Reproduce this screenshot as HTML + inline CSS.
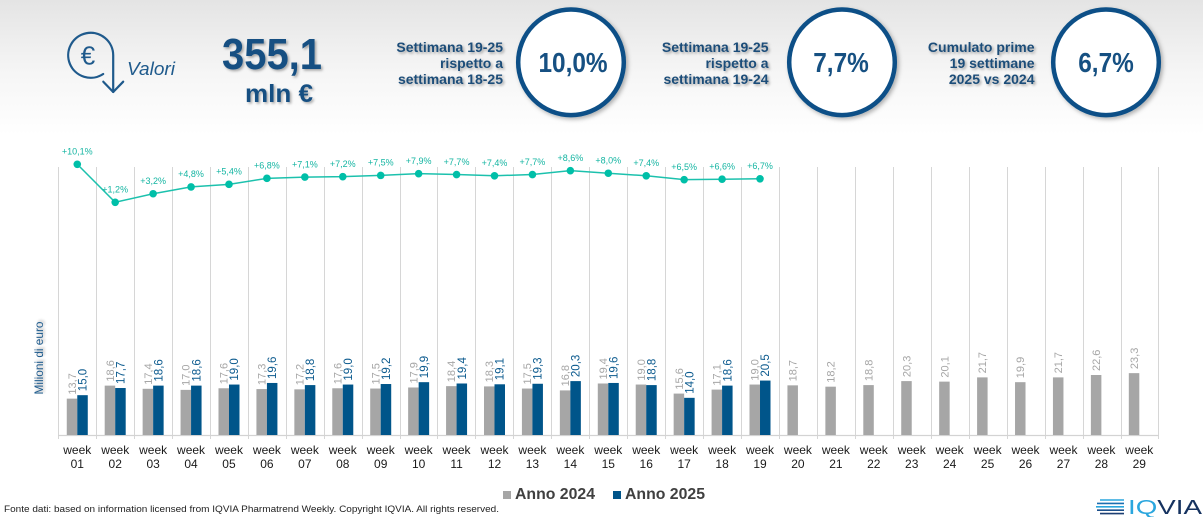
<!DOCTYPE html>
<html>
<head>
<meta charset="utf-8">
<style>
html,body{margin:0;padding:0;background:#fff;}
svg{display:block;}
</style>
</head>
<body>
<svg width="1203" height="517" viewBox="0 0 1203 517" xmlns="http://www.w3.org/2000/svg" font-family="'Liberation Sans', Arial, sans-serif">
<defs>
<linearGradient id="bg" x1="0" y1="0" x2="0" y2="1">
<stop offset="0" stop-color="#e4e4e4"/>
<stop offset="0.55" stop-color="#f6f6f6"/>
<stop offset="1" stop-color="#ffffff"/>
</linearGradient>
<filter id="sh" x="-20%" y="-20%" width="140%" height="140%">
<feDropShadow dx="1.6" dy="1.6" stdDeviation="1.2" flood-color="#000" flood-opacity="0.33"/>
</filter>
<filter id="csh" x="-20%" y="-20%" width="140%" height="140%">
<feDropShadow dx="2" dy="2" stdDeviation="2" flood-color="#000" flood-opacity="0.3"/>
</filter>
</defs>
<rect x="0" y="0" width="1203" height="517" fill="#fff"/>
<rect x="0" y="0" width="1203" height="135" fill="url(#bg)"/>

<!-- Euro icon -->
<g fill="none" stroke="#1f5a8c" stroke-width="2.2" stroke-linecap="round" stroke-linejoin="round">
<path d="M103.2 74 A22.5 22.5 0 1 1 113.2 55.2 L113.2 92"/>
<path d="M103.3 81.7 L113.2 92 L123.2 81.7"/>
</g>
<text x="88" y="64.5" font-size="26" fill="#1f5a8c" text-anchor="middle">€</text>
<text x="127" y="75" font-size="18.5" font-style="italic" fill="#1f5a8c" textLength="48" lengthAdjust="spacingAndGlyphs">Valori</text>

<!-- Big number -->
<g filter="url(#sh)" fill="#165082" font-weight="bold">
<text x="222" y="69" font-size="44" textLength="100" lengthAdjust="spacingAndGlyphs">355,1</text>
<text x="245" y="102" font-size="25" textLength="68" lengthAdjust="spacingAndGlyphs">mln €</text>
</g>

<!-- Text blocks -->
<g filter="url(#sh)" fill="#1f4e79" font-weight="bold" font-size="14" text-anchor="end">
<text x="503" y="52">Settimana 19-25</text>
<text x="503" y="68">rispetto a</text>
<text x="503" y="84">settimana 18-25</text>
<text x="768.5" y="52">Settimana 19-25</text>
<text x="768.5" y="68">rispetto a</text>
<text x="768.5" y="84">settimana 19-24</text>
<text x="1034.5" y="52">Cumulato prime</text>
<text x="1034.5" y="68">19 settimane</text>
<text x="1034.5" y="84">2025 vs 2024</text>
</g>

<!-- Circles -->
<g filter="url(#csh)" fill="#fff" stroke="#0a5087" stroke-width="4.5">
<circle cx="571" cy="62.3" r="52.8"/>
<circle cx="842" cy="62.3" r="52.8"/>
<circle cx="1106" cy="62.3" r="52.8"/>
</g>
<g fill="#165082" font-weight="bold" font-size="28" text-anchor="middle">
<text transform="translate(573,72) scale(0.87,1)">10,0%</text>
<text transform="translate(841,72) scale(0.87,1)">7,7%</text>
<text transform="translate(1106,72) scale(0.87,1)">6,7%</text>
</g>

<!-- Gridlines -->
<path stroke="#d6d6d6" stroke-width="1" fill="none" d="M58.5 167V439M96.5 167V439M134.5 167V439M172.5 167V439M210.5 167V439M248.5 167V439M286.5 167V439M324.5 167V439M362.5 167V439M400.5 167V439M437.5 167V439M475.5 167V439M513.5 167V439M551.5 167V439M589.5 167V439M627.5 167V439M665.5 167V439M703.5 167V439M741.5 167V439M779.5 167V439M817.5 167V439M855.5 167V439M893.5 167V439M931.5 167V439M969.5 167V439M1007.5 167V439M1045.5 167V439M1083.5 167V439M1121.5 167V439M1158.5 167V439"/>
<path stroke="#d3d3d3" stroke-width="1.2" d="M58 435.5H1159"/>

<!-- Y axis title -->
<text filter="url(#sh)" transform="translate(43,358) rotate(-90)" font-size="12" fill="#1f5a8c" text-anchor="middle" textLength="73" lengthAdjust="spacingAndGlyphs">Milioni di euro</text>

<!-- Grey bars 2024 -->
<g fill="#a6a6a6">
<rect x="66.77" y="398.63" width="10.5" height="36.37"/>
<rect x="104.70" y="385.62" width="10.5" height="49.38"/>
<rect x="142.63" y="388.80" width="10.5" height="46.20"/>
<rect x="180.56" y="389.87" width="10.5" height="45.13"/>
<rect x="218.49" y="388.27" width="10.5" height="46.73"/>
<rect x="256.42" y="389.07" width="10.5" height="45.93"/>
<rect x="294.35" y="389.33" width="10.5" height="45.67"/>
<rect x="332.28" y="388.27" width="10.5" height="46.73"/>
<rect x="370.21" y="388.54" width="10.5" height="46.46"/>
<rect x="408.14" y="387.48" width="10.5" height="47.52"/>
<rect x="446.07" y="386.15" width="10.5" height="48.85"/>
<rect x="484.00" y="386.41" width="10.5" height="48.59"/>
<rect x="521.93" y="388.54" width="10.5" height="46.46"/>
<rect x="559.86" y="390.40" width="10.5" height="44.60"/>
<rect x="597.79" y="383.49" width="10.5" height="51.51"/>
<rect x="635.72" y="384.55" width="10.5" height="50.45"/>
<rect x="673.65" y="393.58" width="10.5" height="41.42"/>
<rect x="711.58" y="389.60" width="10.5" height="45.40"/>
<rect x="749.51" y="384.55" width="10.5" height="50.45"/>
<rect x="787.44" y="385.35" width="10.5" height="49.65"/>
<rect x="825.37" y="386.68" width="10.5" height="48.32"/>
<rect x="863.30" y="385.09" width="10.5" height="49.91"/>
<rect x="901.23" y="381.10" width="10.5" height="53.90"/>
<rect x="939.16" y="381.63" width="10.5" height="53.37"/>
<rect x="977.09" y="377.39" width="10.5" height="57.61"/>
<rect x="1015.02" y="382.17" width="10.5" height="52.83"/>
<rect x="1052.95" y="377.39" width="10.5" height="57.61"/>
<rect x="1090.88" y="375.00" width="10.5" height="60.00"/>
<rect x="1128.81" y="373.14" width="10.5" height="61.86"/>
</g>

<!-- Blue bars 2025 -->
<g fill="#00558a">
<rect x="77.27" y="395.17" width="10.5" height="39.83"/>
<rect x="115.20" y="388.01" width="10.5" height="46.99"/>
<rect x="153.13" y="385.62" width="10.5" height="49.38"/>
<rect x="191.06" y="385.62" width="10.5" height="49.38"/>
<rect x="228.99" y="384.55" width="10.5" height="50.45"/>
<rect x="266.92" y="382.96" width="10.5" height="52.04"/>
<rect x="304.85" y="385.09" width="10.5" height="49.91"/>
<rect x="342.78" y="384.55" width="10.5" height="50.45"/>
<rect x="380.71" y="384.02" width="10.5" height="50.98"/>
<rect x="418.64" y="382.17" width="10.5" height="52.83"/>
<rect x="456.57" y="383.49" width="10.5" height="51.51"/>
<rect x="494.50" y="384.29" width="10.5" height="50.71"/>
<rect x="532.43" y="383.76" width="10.5" height="51.24"/>
<rect x="570.36" y="381.10" width="10.5" height="53.90"/>
<rect x="608.29" y="382.96" width="10.5" height="52.04"/>
<rect x="646.22" y="385.09" width="10.5" height="49.91"/>
<rect x="684.15" y="397.83" width="10.5" height="37.17"/>
<rect x="722.08" y="385.62" width="10.5" height="49.38"/>
<rect x="760.01" y="380.57" width="10.5" height="54.43"/>
</g>

<!-- Grey labels -->
<g fill="#a6a6a6" font-size="11">
<text transform="translate(75.92,394.6) rotate(-90)">13,7</text>
<text transform="translate(113.85,381.6) rotate(-90)">18,6</text>
<text transform="translate(151.78,384.8) rotate(-90)">17,4</text>
<text transform="translate(189.71,385.9) rotate(-90)">17,0</text>
<text transform="translate(227.64,384.3) rotate(-90)">17,6</text>
<text transform="translate(265.57,385.1) rotate(-90)">17,3</text>
<text transform="translate(303.50,385.3) rotate(-90)">17,2</text>
<text transform="translate(341.43,384.3) rotate(-90)">17,6</text>
<text transform="translate(379.36,384.5) rotate(-90)">17,5</text>
<text transform="translate(417.29,383.5) rotate(-90)">17,9</text>
<text transform="translate(455.22,382.2) rotate(-90)">18,4</text>
<text transform="translate(493.15,382.4) rotate(-90)">18,3</text>
<text transform="translate(531.08,384.5) rotate(-90)">17,5</text>
<text transform="translate(569.01,386.4) rotate(-90)">16,8</text>
<text transform="translate(606.94,379.5) rotate(-90)">19,4</text>
<text transform="translate(644.87,380.6) rotate(-90)">19,0</text>
<text transform="translate(682.80,389.6) rotate(-90)">15,6</text>
<text transform="translate(720.73,385.6) rotate(-90)">17,1</text>
<text transform="translate(758.66,380.6) rotate(-90)">19,0</text>
<text transform="translate(796.59,381.4) rotate(-90)">18,7</text>
<text transform="translate(834.52,382.7) rotate(-90)">18,2</text>
<text transform="translate(872.45,381.1) rotate(-90)">18,8</text>
<text transform="translate(910.38,377.1) rotate(-90)">20,3</text>
<text transform="translate(948.31,377.6) rotate(-90)">20,1</text>
<text transform="translate(986.24,373.4) rotate(-90)">21,7</text>
<text transform="translate(1024.17,378.2) rotate(-90)">19,9</text>
<text transform="translate(1062.10,373.4) rotate(-90)">21,7</text>
<text transform="translate(1100.03,371.0) rotate(-90)">22,6</text>
<text transform="translate(1137.96,369.1) rotate(-90)">23,3</text>
</g>

<!-- Blue labels -->
<g fill="#0b5a8e" font-size="11.5">
<text transform="translate(86.47,391.2) rotate(-90)">15,0</text>
<text transform="translate(124.40,384.0) rotate(-90)">17,7</text>
<text transform="translate(162.33,381.6) rotate(-90)">18,6</text>
<text transform="translate(200.26,381.6) rotate(-90)">18,6</text>
<text transform="translate(238.19,380.6) rotate(-90)">19,0</text>
<text transform="translate(276.12,379.0) rotate(-90)">19,6</text>
<text transform="translate(314.05,381.1) rotate(-90)">18,8</text>
<text transform="translate(351.98,380.6) rotate(-90)">19,0</text>
<text transform="translate(389.91,380.0) rotate(-90)">19,2</text>
<text transform="translate(427.84,378.2) rotate(-90)">19,9</text>
<text transform="translate(465.77,379.5) rotate(-90)">19,4</text>
<text transform="translate(503.70,380.3) rotate(-90)">19,1</text>
<text transform="translate(541.63,379.8) rotate(-90)">19,3</text>
<text transform="translate(579.56,377.1) rotate(-90)">20,3</text>
<text transform="translate(617.49,379.0) rotate(-90)">19,6</text>
<text transform="translate(655.42,381.1) rotate(-90)">18,8</text>
<text transform="translate(693.35,393.8) rotate(-90)">14,0</text>
<text transform="translate(731.28,381.6) rotate(-90)">18,6</text>
<text transform="translate(769.21,376.6) rotate(-90)">20,5</text>
</g>

<!-- Growth line -->
<polyline fill="none" stroke="#1cc1ad" stroke-width="1.5" points="77.27,164.27 115.2,202.28 153.13,193.74 191.06,186.9 228.99,184.34 266.92,178.36 304.85,177.08 342.78,176.66 380.71,175.38 418.64,173.67 456.57,174.52 494.5,175.8 532.43,174.52 570.36,170.68 608.29,173.24 646.22,175.8 684.15,179.65 722.08,179.22 760.01,178.79"/>
<g fill="#00bfa8">
<circle cx="77.27" cy="164.27" r="3.8"/>
<circle cx="115.2" cy="202.28" r="3.8"/>
<circle cx="153.13" cy="193.74" r="3.8"/>
<circle cx="191.06" cy="186.9" r="3.8"/>
<circle cx="228.99" cy="184.34" r="3.8"/>
<circle cx="266.92" cy="178.36" r="3.8"/>
<circle cx="304.85" cy="177.08" r="3.8"/>
<circle cx="342.78" cy="176.66" r="3.8"/>
<circle cx="380.71" cy="175.38" r="3.8"/>
<circle cx="418.64" cy="173.67" r="3.8"/>
<circle cx="456.57" cy="174.52" r="3.8"/>
<circle cx="494.5" cy="175.8" r="3.8"/>
<circle cx="532.43" cy="174.52" r="3.8"/>
<circle cx="570.36" cy="170.68" r="3.8"/>
<circle cx="608.29" cy="173.24" r="3.8"/>
<circle cx="646.22" cy="175.8" r="3.8"/>
<circle cx="684.15" cy="179.65" r="3.8"/>
<circle cx="722.08" cy="179.22" r="3.8"/>
<circle cx="760.01" cy="178.79" r="3.8"/>
</g>
<g fill="#14b5a2" font-size="9" text-anchor="middle">
<text x="77.27" y="154.6">+10,1%</text>
<text x="115.2" y="192.3">+1,2%</text>
<text x="153.13" y="184.0">+3,2%</text>
<text x="191.06" y="177.2">+4,8%</text>
<text x="228.99" y="174.6">+5,4%</text>
<text x="266.92" y="168.7">+6,8%</text>
<text x="304.85" y="167.4">+7,1%</text>
<text x="342.78" y="167.0">+7,2%</text>
<text x="380.71" y="165.7">+7,5%</text>
<text x="418.64" y="164.0">+7,9%</text>
<text x="456.57" y="164.8">+7,7%</text>
<text x="494.5" y="166.1">+7,4%</text>
<text x="532.43" y="164.8">+7,7%</text>
<text x="570.36" y="161.0">+8,6%</text>
<text x="608.29" y="163.5">+8,0%</text>
<text x="646.22" y="166.1">+7,4%</text>
<text x="684.15" y="169.9">+6,5%</text>
<text x="722.08" y="169.5">+6,6%</text>
<text x="760.01" y="169.1">+6,7%</text>
</g>

<!-- Week labels -->
<g fill="#1a1a1a" font-size="12" text-anchor="middle">
<text x="77.27" y="454">week</text><text x="77.27" y="468">01</text>
<text x="115.20" y="454">week</text><text x="115.20" y="468">02</text>
<text x="153.13" y="454">week</text><text x="153.13" y="468">03</text>
<text x="191.06" y="454">week</text><text x="191.06" y="468">04</text>
<text x="228.99" y="454">week</text><text x="228.99" y="468">05</text>
<text x="266.92" y="454">week</text><text x="266.92" y="468">06</text>
<text x="304.85" y="454">week</text><text x="304.85" y="468">07</text>
<text x="342.78" y="454">week</text><text x="342.78" y="468">08</text>
<text x="380.71" y="454">week</text><text x="380.71" y="468">09</text>
<text x="418.64" y="454">week</text><text x="418.64" y="468">10</text>
<text x="456.57" y="454">week</text><text x="456.57" y="468">11</text>
<text x="494.50" y="454">week</text><text x="494.50" y="468">12</text>
<text x="532.43" y="454">week</text><text x="532.43" y="468">13</text>
<text x="570.36" y="454">week</text><text x="570.36" y="468">14</text>
<text x="608.29" y="454">week</text><text x="608.29" y="468">15</text>
<text x="646.22" y="454">week</text><text x="646.22" y="468">16</text>
<text x="684.15" y="454">week</text><text x="684.15" y="468">17</text>
<text x="722.08" y="454">week</text><text x="722.08" y="468">18</text>
<text x="760.01" y="454">week</text><text x="760.01" y="468">19</text>
<text x="797.94" y="454">week</text><text x="797.94" y="468">20</text>
<text x="835.87" y="454">week</text><text x="835.87" y="468">21</text>
<text x="873.80" y="454">week</text><text x="873.80" y="468">22</text>
<text x="911.73" y="454">week</text><text x="911.73" y="468">23</text>
<text x="949.66" y="454">week</text><text x="949.66" y="468">24</text>
<text x="987.59" y="454">week</text><text x="987.59" y="468">25</text>
<text x="1025.52" y="454">week</text><text x="1025.52" y="468">26</text>
<text x="1063.45" y="454">week</text><text x="1063.45" y="468">27</text>
<text x="1101.38" y="454">week</text><text x="1101.38" y="468">28</text>
<text x="1139.31" y="454">week</text><text x="1139.31" y="468">29</text>
</g>

<!-- Legend -->
<rect x="503" y="491" width="8" height="8" fill="#a6a6a6"/>
<text x="515" y="499" font-size="16" font-weight="bold" fill="#404040" textLength="80" lengthAdjust="spacingAndGlyphs">Anno 2024</text>
<rect x="613" y="491" width="8" height="8" fill="#00558a"/>
<text x="625" y="499" font-size="16" font-weight="bold" fill="#404040" textLength="80" lengthAdjust="spacingAndGlyphs">Anno 2025</text>

<!-- Footnote -->
<text x="4" y="512" font-size="9" fill="#222" textLength="495" lengthAdjust="spacingAndGlyphs">Fonte dati: based on information licensed from IQVIA Pharmatrend Weekly. Copyright IQVIA. All rights reserved.</text>

<!-- IQVIA logo -->
<g stroke-width="1.6">
<line x1="1100" y1="500" x2="1124" y2="500" stroke="#2aa6de"/>
<line x1="1097" y1="503.4" x2="1124" y2="503.4" stroke="#1c6fb0"/>
<line x1="1096" y1="506.8" x2="1124" y2="506.8" stroke="#2aa6de"/>
<line x1="1097" y1="510.2" x2="1124" y2="510.2" stroke="#1c4f8a"/>
<line x1="1100" y1="513.6" x2="1124" y2="513.6" stroke="#1c3f73"/>
</g>
<text x="1128" y="514" font-size="20" textLength="74" lengthAdjust="spacingAndGlyphs"><tspan fill="#2aa6de">IQ</tspan><tspan fill="#15325f">VIA</tspan></text>
</svg>
</body>
</html>
